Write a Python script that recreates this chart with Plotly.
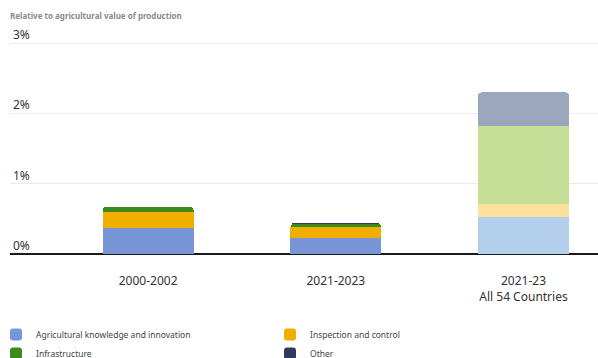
import plotly.graph_objects as go

# Public support to agriculture, as a share of agricultural value of production (%)
periods = ["2000-2002", "2021-2023", "2021-23<br>All 54 Countries"]
knowledge = [0.374, 0.222, 0.52]
inspection = [0.223, 0.162, 0.195]
infrastructure = [0.076, 0.047, 1.105]
other = [0.0, 0.01, 0.48]

series = [
    ("Agricultural knowledge and innovation", knowledge, "#7895d8", "#b4cfec"),
    ("Inspection and control", inspection, "#f2ae00", "#fde09b"),
    ("Infrastructure", infrastructure, "#3c8a1b", "#c5de98"),
    ("Other", other, "#323b5e", "#9ba7bd"),
]

font_family = "Segoe UI, Noto Sans, sans-serif"

fig = go.Figure()
for name, values, color, light in series:
    # the all-countries column is drawn in lighter tints of each colour
    colors = [color, color, light]
    fig.add_trace(go.Bar(
        x=list(range(len(periods))),
        y=values,
        name=name,
        marker=dict(color=colors, line=dict(width=0)),
        width=0.485,
    ))

fig.update_layout(
    barmode="stack",
    barcornerradius=4,
    width=598,
    height=358,
    margin=dict(l=10, r=0, t=19, b=104),
    plot_bgcolor="white",
    paper_bgcolor="white",
    font=dict(family=font_family, color="#333333"),
    title=dict(
        text="<b>Relative to agricultural value of production</b>",
        x=0, xref="container", xanchor="left",
        y=1 - 16 / 358, yref="container", yanchor="middle",
        font=dict(size=8, color="#8a8a8a"),
        pad=dict(l=10),
    ),
    showlegend=True,
    legend=dict(
        orientation="h",
        xref="container", x=0, xanchor="left",
        yref="container", y=1 - 320 / 358, yanchor="top",
        indentation=-4,
        entrywidth=233, entrywidthmode="pixels",
        font=dict(size=8.5, color="#444444"),
        traceorder="normal",
    ),
    xaxis=dict(
        tickmode="array",
        tickvals=list(range(len(periods))),
        ticktext=periods,
        range=[-0.736, 2.397],
        showgrid=False,
        showline=False,
        ticks="",
        ticklabelstandoff=18,
        tickfont=dict(size=12, color="#333333"),
    ),
    yaxis=dict(
        range=[0, 235 / 70.3],
        tickvals=[0, 1, 2, 3],
        ticktext=["0%", "1%", "2%", "3%"],
        ticklabelposition="inside top",
        tickfont=dict(size=12, color="#333333"),
        showgrid=True,
        gridcolor="#ebebeb",
        gridwidth=1,
        zeroline=True,
        zerolinecolor="#1a1a1a",
        zerolinewidth=1.5,
        showline=False,
        ticks="",
    ),
)

fig.write_html("out.html")
